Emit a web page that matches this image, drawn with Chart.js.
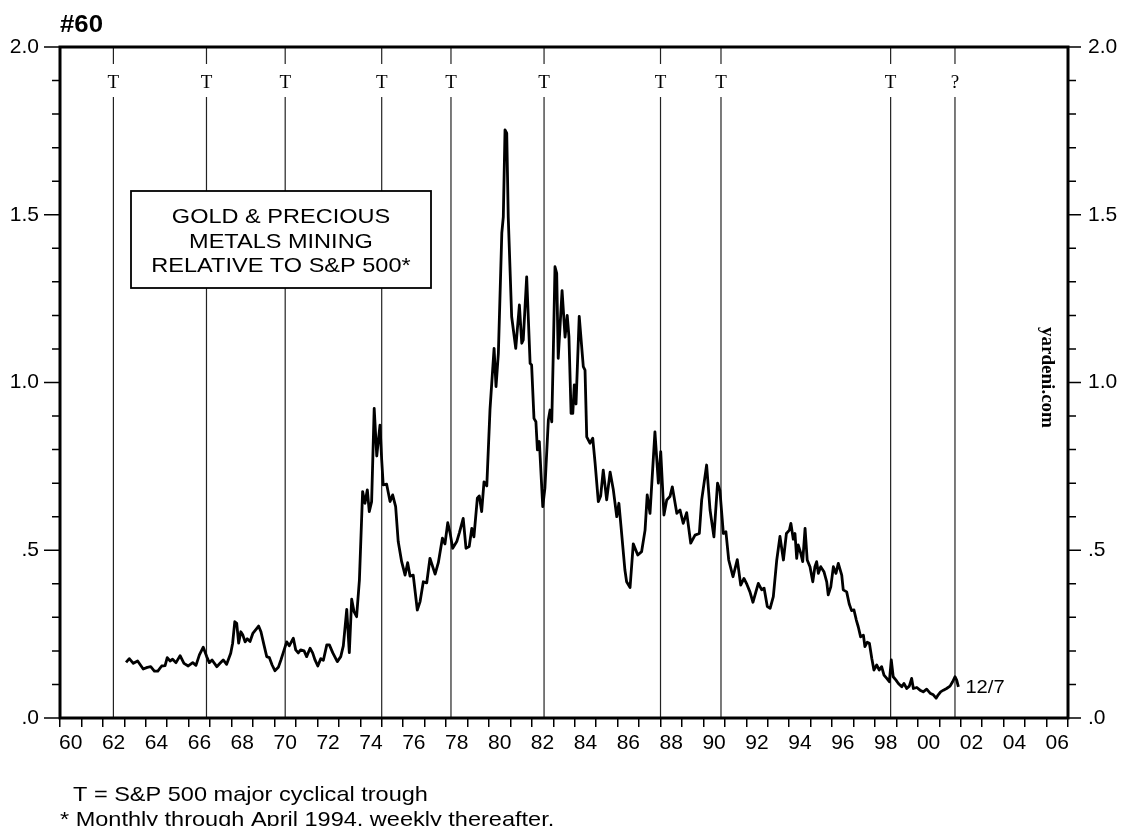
<!DOCTYPE html>
<html>
<head>
<meta charset="utf-8">
<script src="https://cdn.jsdelivr.net/npm/chart.js@4.4.1/dist/chart.umd.min.js"></script>
<style>
  html, body { margin: 0; padding: 0; background: #fff; }
  canvas { display: block; }
</style>
</head>
<body>
<canvas id="chart" width="1121" height="826"></canvas>
<script>
// Gold & precious metals mining index relative to the S&P 500 (decimal years)
const dates = [
  1963.08, 1963.23, 1963.42, 1963.62, 1963.88, 1964.07, 1964.23, 1964.40, 1964.56, 1964.74,
  1964.90, 1965.00, 1965.13, 1965.25, 1965.41, 1965.60, 1965.78, 1965.98, 1966.19, 1966.34,
  1966.50, 1966.68, 1966.84, 1966.96, 1967.09, 1967.31, 1967.46, 1967.61, 1967.77, 1967.96,
  1968.05, 1968.15, 1968.24, 1968.33, 1968.43, 1968.52, 1968.63, 1968.73, 1968.86, 1968.99,
  1969.14, 1969.26, 1969.37, 1969.51, 1969.64, 1969.76, 1969.89, 1970.02, 1970.18, 1970.30,
  1970.41, 1970.57, 1970.69, 1970.88, 1970.99, 1971.11, 1971.22, 1971.38, 1971.50, 1971.66,
  1971.78, 1971.89, 1972.02, 1972.16, 1972.28, 1972.44, 1972.56, 1972.72, 1972.93, 1973.09,
  1973.21, 1973.37, 1973.49, 1973.60, 1973.71, 1973.83, 1973.96, 1974.11, 1974.22, 1974.33,
  1974.42, 1974.53, 1974.65, 1974.77, 1974.92, 1975.00, 1975.07, 1975.23, 1975.39, 1975.51,
  1975.65, 1975.77, 1975.93, 1976.09, 1976.21, 1976.32, 1976.47, 1976.66, 1976.79, 1976.94,
  1977.10, 1977.25, 1977.49, 1977.64, 1977.83, 1977.95, 1978.08, 1978.19, 1978.31, 1978.50,
  1978.62, 1978.80, 1978.93, 1979.08, 1979.20, 1979.30, 1979.46, 1979.55, 1979.66, 1979.77,
  1979.90, 1980.05, 1980.24, 1980.33, 1980.44, 1980.60, 1980.67, 1980.75, 1980.83, 1980.90,
  1981.06, 1981.25, 1981.42, 1981.53, 1981.60, 1981.76, 1981.92, 1981.99, 1982.10, 1982.19,
  1982.26, 1982.35, 1982.51, 1982.61, 1982.77, 1982.85, 1982.93, 1983.00, 1983.08, 1983.16,
  1983.23, 1983.41, 1983.55, 1983.65, 1983.73, 1983.83, 1983.91, 1983.98, 1984.06, 1984.21,
  1984.40, 1984.48, 1984.56, 1984.71, 1984.84, 1984.95, 1985.10, 1985.21, 1985.33, 1985.49,
  1985.65, 1985.80, 1985.96, 1986.06, 1986.16, 1986.34, 1986.42, 1986.58, 1986.73, 1986.94,
  1987.12, 1987.28, 1987.38, 1987.51, 1987.74, 1987.90, 1988.01, 1988.16, 1988.29, 1988.44,
  1988.55, 1988.76, 1988.91, 1989.06, 1989.22, 1989.41, 1989.61, 1989.81, 1989.92, 1990.15,
  1990.31, 1990.49, 1990.66, 1990.77, 1990.93, 1991.05, 1991.18, 1991.38, 1991.58, 1991.74,
  1991.89, 1992.03, 1992.17, 1992.31, 1992.56, 1992.72, 1992.83, 1992.98, 1993.11, 1993.26,
  1993.42, 1993.57, 1993.73, 1993.87, 1994.01, 1994.08, 1994.19, 1994.27, 1994.35, 1994.42,
  1994.54, 1994.63, 1994.74, 1994.84, 1994.97, 1995.10, 1995.20, 1995.28, 1995.36, 1995.47,
  1995.62, 1995.75, 1995.82, 1995.94, 1996.06, 1996.18, 1996.29, 1996.45, 1996.52, 1996.68,
  1996.80, 1996.91, 1997.02, 1997.13, 1997.22, 1997.33, 1997.46, 1997.53, 1997.64, 1997.74,
  1997.85, 1997.95, 1998.08, 1998.20, 1998.31, 1998.42, 1998.55, 1998.67, 1998.76, 1998.85,
  1998.98, 1999.09, 1999.25, 1999.35, 1999.48, 1999.60, 1999.71, 1999.79, 1999.95, 2000.10,
  2000.25, 2000.41, 2000.57, 2000.72, 2000.85, 2000.95, 2001.06, 2001.19, 2001.34, 2001.50,
  2001.62, 2001.73, 2001.81, 2001.89
];

const ratio = [
  0.166, 0.177, 0.163, 0.170, 0.146, 0.151, 0.153, 0.140, 0.140, 0.155,
  0.156, 0.180, 0.170, 0.175, 0.165, 0.186, 0.163, 0.155, 0.165, 0.157,
  0.188, 0.211, 0.183, 0.165, 0.173, 0.153, 0.163, 0.173, 0.160, 0.193,
  0.223, 0.287, 0.282, 0.223, 0.257, 0.248, 0.227, 0.236, 0.228, 0.252,
  0.264, 0.274, 0.257, 0.218, 0.183, 0.180, 0.158, 0.141, 0.151, 0.173,
  0.195, 0.227, 0.215, 0.238, 0.203, 0.194, 0.203, 0.200, 0.183, 0.208,
  0.194, 0.173, 0.155, 0.177, 0.172, 0.218, 0.218, 0.194, 0.168, 0.183,
  0.215, 0.324, 0.195, 0.354, 0.317, 0.302, 0.411, 0.675, 0.640, 0.680,
  0.615, 0.645, 0.923, 0.781, 0.873, 0.769, 0.695, 0.697, 0.645, 0.665,
  0.630, 0.526, 0.466, 0.426, 0.463, 0.423, 0.426, 0.322, 0.347, 0.406,
  0.403, 0.476, 0.429, 0.463, 0.536, 0.519, 0.582, 0.551, 0.506, 0.526,
  0.552, 0.595, 0.506, 0.511, 0.565, 0.540, 0.655, 0.662, 0.615, 0.704,
  0.692, 0.920, 1.102, 0.988, 1.087, 1.445, 1.494, 1.753, 1.743, 1.494,
  1.196, 1.102, 1.231, 1.117, 1.127, 1.315, 1.057, 1.052, 0.893, 0.883,
  0.799, 0.824, 0.630, 0.685, 0.888, 0.918, 0.883, 1.087, 1.345, 1.325,
  1.072, 1.274, 1.135, 1.200, 1.137, 0.908, 0.908, 0.993, 0.936, 1.197,
  1.047, 1.037, 0.838, 0.819, 0.834, 0.760, 0.645, 0.662, 0.739, 0.650,
  0.733, 0.680, 0.600, 0.640, 0.570, 0.441, 0.406, 0.389, 0.519, 0.486,
  0.496, 0.560, 0.665, 0.610, 0.853, 0.700, 0.794, 0.605, 0.650, 0.660,
  0.689, 0.610, 0.620, 0.580, 0.612, 0.521, 0.545, 0.550, 0.650, 0.754,
  0.620, 0.540, 0.700, 0.678, 0.550, 0.555, 0.471, 0.421, 0.472, 0.396,
  0.416, 0.398, 0.376, 0.345, 0.401, 0.382, 0.387, 0.332, 0.327, 0.362,
  0.471, 0.541, 0.471, 0.550, 0.560, 0.580, 0.533, 0.550, 0.476, 0.516,
  0.491, 0.466, 0.565, 0.471, 0.451, 0.406, 0.451, 0.466, 0.431, 0.451,
  0.436, 0.406, 0.367, 0.391, 0.451, 0.431, 0.461, 0.426, 0.382, 0.376,
  0.340, 0.320, 0.322, 0.292, 0.272, 0.242, 0.247, 0.213, 0.226, 0.223,
  0.178, 0.143, 0.158, 0.143, 0.153, 0.128, 0.118, 0.108, 0.173, 0.123,
  0.113, 0.103, 0.093, 0.103, 0.088, 0.095, 0.118, 0.088, 0.091, 0.083,
  0.078, 0.086, 0.074, 0.069, 0.059, 0.069, 0.078, 0.083, 0.088, 0.095,
  0.108, 0.123, 0.113, 0.093
];

// S&P 500 major cyclical troughs and their markers
const troughDates = [1962.49, 1966.83, 1970.50, 1975.00, 1978.23, 1982.57, 1988.00, 1990.82, 1998.73, 2001.73];
const troughMarks = ['T', 'T', 'T', 'T', 'T', 'T', 'T', 'T', 'T', '?'];

// Axis ranges and tick labels
const yearFirst = 1960;
const yearLast = 2007;
const valueTicks = [0, 0.5, 1.0, 1.5, 2.0];
const valueTickLabels = ['.0', '.5', '1.0', '1.5', '2.0'];

const chartNumber = '#60';
const boxLines = ['GOLD & PRECIOUS', 'METALS MINING', 'RELATIVE TO S&P 500*'];
const lastDateLabel = '12/7';
const sourceLabel = 'yardeni.com';
const notes = ['T = S&P 500 major cyclical trough', '* Monthly through April 1994, weekly thereafter.'];

const SANS = '"Liberation Sans", Arial, Helvetica, sans-serif';
const SERIF = '"Liberation Serif", "Times New Roman", Times, serif';
const STRETCH = 1.12;

const years = [];
for (let yr = yearFirst; yr <= yearLast; yr++) years.push(yr);

// Draws sans text slightly widened, anchored at its left/centre/right edge
function wideText(ctx, text, x, y, font, align) {
  ctx.save();
  ctx.font = font;
  ctx.textAlign = 'left';
  ctx.textBaseline = 'alphabetic';
  const w = ctx.measureText(text).width * STRETCH;
  let left = x;
  if (align === 'center') left = x - w / 2;
  if (align === 'right') left = x - w;
  ctx.translate(left, y);
  ctx.scale(STRETCH, 1);
  ctx.fillStyle = '#000';
  ctx.fillText(text, 0, 0);
  ctx.restore();
}

const decorations = {
  id: 'decorations',
  afterDatasetsDraw(chart) {
    const { ctx, chartArea: a, scales } = chart;
    const xs = scales.x, ys = scales.y;
    ctx.save();

    // trough markers sit in a gap of each vertical line
    troughDates.forEach((d, i) => {
      const px = xs.getPixelForValue(d);
      ctx.fillStyle = '#fff';
      ctx.fillRect(px - 9, a.top + 17, 18, 33);
      ctx.fillStyle = '#000';
      ctx.font = '19px ' + SERIF;
      ctx.textAlign = 'center';
      ctx.textBaseline = 'alphabetic';
      ctx.fillText(troughMarks[i], px, a.top + 41);
    });

    // boxed title
    const bx = a.left + 71, by = a.top + 144, bw = 300, bh = 97;
    ctx.fillStyle = '#fff';
    ctx.fillRect(bx, by, bw, bh);
    ctx.strokeStyle = '#000';
    ctx.lineWidth = 1.8;
    ctx.strokeRect(bx, by, bw, bh);
    boxLines.forEach((line, i) => {
      wideText(ctx, line, bx + bw / 2, by + 32 + i * 24.5, '21px ' + SANS, 'center');
    });

    // plot frame
    ctx.strokeStyle = '#000';
    ctx.lineWidth = 3;
    ctx.strokeRect(a.left, a.top, a.right - a.left, a.bottom - a.top);

    // value-axis tick marks, longer at the labelled values
    ctx.lineWidth = 1.5;
    ctx.beginPath();
    for (let i = 0; i <= 20; i++) {
      const py = ys.getPixelForValue(i / 10);
      const major = i % 5 === 0;
      ctx.moveTo(a.left - (major ? 16 : 8), py);
      ctx.lineTo(a.left, py);
      ctx.moveTo(a.right, py);
      ctx.lineTo(a.right + (major ? 13 : 8), py);
    }
    ctx.stroke();

    // label at the latest observation
    const n = dates.length - 1;
    const lx = xs.getPixelForValue(dates[n]);
    const ly = ys.getPixelForValue(ratio[n]);
    wideText(ctx, lastDateLabel, lx + 7, ly + 6.5, '18px ' + SANS, 'left');

    // chart number
    wideText(ctx, chartNumber, a.left, a.top - 15, 'bold 23px ' + SANS, 'left');

    // source, running down the right side
    ctx.save();
    ctx.translate(a.right - 21, (a.top + a.bottom) / 2 - 5);
    ctx.rotate(Math.PI / 2);
    ctx.font = 'bold 19px ' + SERIF;
    ctx.fillStyle = '#000';
    ctx.textAlign = 'center';
    ctx.textBaseline = 'middle';
    ctx.fillText(sourceLabel, 0, 0);
    ctx.restore();

    // footnotes
    wideText(ctx, notes[0], a.left + 13, 801, '21px ' + SANS, 'left');
    wideText(ctx, notes[1], a.left, 825.5, '21px ' + SANS, 'left');

    ctx.restore();
  }
};

const valueAxis = (position, padding, width) => ({
  type: 'linear',
  position: position,
  min: 0,
  max: 2,
  afterBuildTicks: s => { s.ticks = valueTicks.map(v => ({ value: v })); },
  ticks: {
    padding: padding,
    color: '#000',
    font: { family: SANS, size: 21 },
    callback: v => valueTickLabels[valueTicks.indexOf(v)]
  },
  grid: { display: false, drawTicks: false },
  border: { display: false },
  afterFit: s => { s.width = width; }
});

const datasets = [{
  data: dates.map((d, i) => ({ x: d, y: ratio[i] })),
  borderColor: '#000',
  borderWidth: 2.8,
  borderJoinStyle: 'round',
  pointRadius: 0,
  tension: 0,
  order: 0,
  yAxisID: 'y'
}];
troughDates.forEach(d => {
  datasets.push({
    data: [{ x: d, y: 0 }, { x: d, y: 2 }],
    borderColor: '#222',
    borderWidth: 1.2,
    pointRadius: 0,
    order: 1,
    yAxisID: 'y'
  });
});

new Chart(document.getElementById('chart'), {
  type: 'line',
  data: { datasets: datasets },
  options: {
    responsive: false,
    animation: false,
    devicePixelRatio: 1,
    layout: { padding: { top: 47, left: 0, right: 0, bottom: 0 } },
    plugins: { legend: { display: false }, tooltip: { enabled: false }, title: { display: false } },
    scales: {
      x: {
        type: 'linear',
        min: yearFirst,
        max: yearLast,
        afterBuildTicks: s => { s.ticks = years.map(v => ({ value: v })); },
        ticks: {
          autoSkip: false,
          maxRotation: 0,
          minRotation: 0,
          labelOffset: 10.72,
          padding: 4,
          color: '#000',
          font: { family: SANS, size: 21 },
          callback: v => (v % 2 === 0 ? String(v % 100).padStart(2, '0') : '')
        },
        grid: { drawOnChartArea: false, drawTicks: true, tickLength: 9, lineWidth: 1.5, color: '#000' },
        border: { display: false },
        afterFit: s => { s.height = 108; }
      },
      y: valueAxis('left', 21, 60),
      y2: valueAxis('right', 20, 53)
    }
  },
  plugins: [decorations]
});
</script>
</body>
</html>
